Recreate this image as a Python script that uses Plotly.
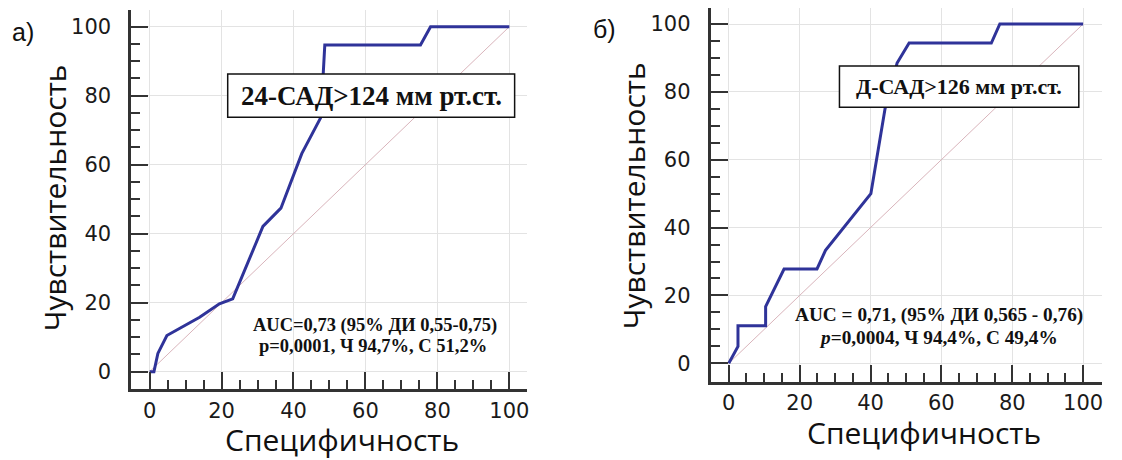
import plotly.graph_objects as go

# ---- data ----
spec_a = [0, 1.2, 2.3, 4.8, 13.9, 19.4, 23.1, 31.5, 36.5, 42.3, 47.6, 48.7, 75.3, 78.1, 100]
sens_a = [0, 0, 5.3, 10.5, 15.8, 19.7, 21.1, 42.1, 47.4, 63.2, 73.7, 94.7, 94.7, 100, 100]

spec_b = [0, 2.6, 2.6, 10.4, 10.4, 15.6, 24.9, 27.3, 40.1, 41.8, 44.1, 47.5, 50.9, 74.1, 76.5, 100]
sens_b = [0, 5.0, 11.1, 11.1, 16.7, 27.8, 27.8, 33.3, 50.0, 61.1, 75.0, 88.5, 94.4, 94.4, 100, 100]

diag_x = [0, 100]
diag_y = [0, 100]

major_ticks = [0, 20, 40, 60, 80, 100]
major_labels = ["0", "20", "40", "60", "80", "100"]
minor_ticks = [5, 10, 15, 25, 30, 35, 45, 50, 55, 65, 70, 75, 85, 90, 95]

label_a = "24-САД>124 мм рт.ст."
label_b = "Д-САД>126 мм рт.ст."
stats_a = ["AUC=0,73 (95% ДИ 0,55-0,75)", "р=0,0001, Ч 94,7%, С 51,2%"]
stats_b = ["AUC = 0,71, (95% ДИ 0,565 - 0,76)", "<i>p</i>=0,0004, Ч 94,4%, С 49,4%"]

# the page body has an 8 px margin; the figure is sized and placed to compensate
OFF = 8
W, H = 1122 - OFF, 460 - OFF
CURVE = "#2f3399"
DIAG = "#d9b4bb"
AX = "#333333"


def px(x):
    return (x - OFF) / W


def py(y):
    return min(1.0, 1 - (y - OFF) / H)


fig = go.Figure()
for xs, ys, xa, ya in [(spec_a, sens_a, "x", "y"), (spec_b, sens_b, "x2", "y2")]:
    fig.add_trace(go.Scatter(x=diag_x, y=diag_y, mode="lines", xaxis=xa, yaxis=ya,
                             line=dict(color=DIAG, width=1), hoverinfo="skip"))
    fig.add_trace(go.Scatter(x=xs, y=ys, mode="lines", xaxis=xa, yaxis=ya,
                             line=dict(color=CURVE, width=3)))


def axis(domain, rng, anchor, standoff):
    return dict(
        domain=domain, range=rng, anchor=anchor,
        tickmode="array", tickvals=major_ticks, ticktext=major_labels,
        ticks="inside", ticklen=17, tickwidth=2, tickcolor=AX,
        showline=True, linecolor=AX, linewidth=3,
        showgrid=True, gridcolor="#e3e3e3", gridwidth=1, zeroline=False,
        tickfont=dict(family="DejaVu Sans", size=21, color="#1a1a1a"),
        ticklabelstandoff=standoff,
        minor=dict(tickmode="array", tickvals=minor_ticks, ticks="inside", ticklen=9,
                   tickwidth=2, tickcolor=AX, showgrid=False),
        fixedrange=True,
    )


layout = dict(
    width=W, height=H, margin=dict(l=0, r=0, t=0, b=0),
    paper_bgcolor="white", plot_bgcolor="white", showlegend=False,
    xaxis=axis([px(131.7), px(528)], [-5.07, 104.8], "y", 0),
    yaxis=axis([py(389.3), py(10)], [-5.1, 104.84], "x", 13),
    xaxis2=axis([px(712.7), px(1104.7)], [-5.07, 105.26], "y2", 0),
    yaxis2=axis([py(381.7), py(8)], [-5.42, 104.72], "x2", 13),
)
fig.update_layout(**layout)

shapes = [
    dict(type="rect", xref="paper", yref="paper", x0=px(228.3), x1=px(516), y0=py(117.3), y1=py(74),
         line=dict(color="#111", width=1.5), fillcolor="white", layer="above"),
    dict(type="rect", xref="paper", yref="paper", x0=px(841.7), x1=px(1081.7), y0=py(107.3), y1=py(66),
         line=dict(color="#111", width=1.5), fillcolor="white", layer="above"),
]
fig.update_layout(shapes=shapes)

sans = "Open Sans"
serif = "Liberation Serif"
ann = []


def add(text, x, y, size, family, angle=0, color="#111"):
    ann.append(dict(text=text, x=px(x), y=py(y), xref="paper", yref="paper", showarrow=False,
                    xanchor="center", yanchor="middle", textangle=angle,
                    font=dict(family=family, size=size, color=color)))


add("а)", 23, 32, 25, "Liberation Sans")
add("б)", 606, 29, 25, "Liberation Sans")
add("Специфичность", 343, 439, 30, sans)
add("Специфичность", 926, 432, 30, sans)
add("Чувствительность", 55, 197.5, 30, sans, angle=-90)
add("Чувствительность", 635, 196, 30, sans, angle=-90)
add("<b>" + label_a + "</b>", 372, 96, 27, serif)
add("<b>" + label_b + "</b>", 961.7, 86.7, 22, serif)
add("<b>" + stats_a[0] + "</b>", 375.5, 325, 18.5, serif)
add("<b>" + stats_a[1] + "</b>", 374, 346, 18.5, serif)
add("<b>" + stats_b[0] + "</b>", 942, 315, 19.3, serif)
add("<b>" + stats_b[1] + "</b>", 941, 337, 19.3, serif)
fig.update_layout(annotations=ann)

fig.write_html("out.html", config={"displayModeBar": False})
